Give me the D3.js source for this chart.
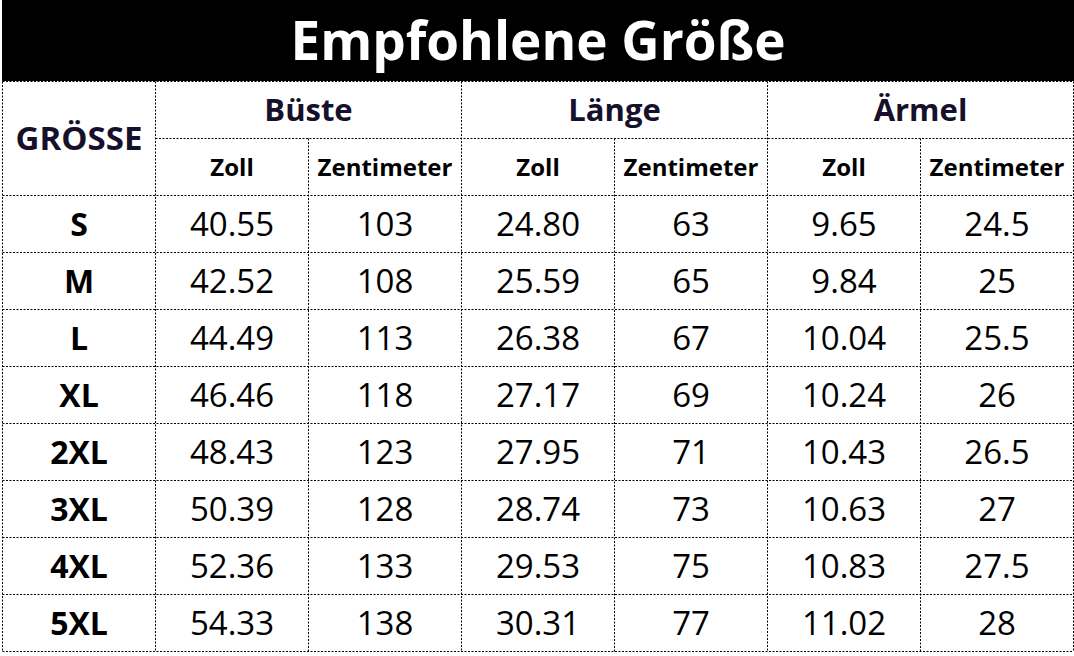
<!DOCTYPE html>
<html>
<head>
<meta charset="utf-8">
<script src="https://cdn.jsdelivr.net/npm/d3@7"></script>
<style>
  body { margin: 0; background: #fff; }
  svg { display: block; }
  text { font-family: "Open Sans", "Noto Sans", sans-serif; }
</style>
</head>
<body>
<div id="chart"></div>
<script>
var title = "Empfohlene Größe";
var sizeHeader = "GRÖSSE";
var groups = ["Büste", "Länge", "Ärmel"];
var units = ["Zoll", "Zentimeter"];

var sizes = ["S", "M", "L", "XL", "2XL", "3XL", "4XL", "5XL"];
var bustInch = ["40.55", "42.52", "44.49", "46.46", "48.43", "50.39", "52.36", "54.33"];
var bustCm = ["103", "108", "113", "118", "123", "128", "133", "138"];
var lengthInch = ["24.80", "25.59", "26.38", "27.17", "27.95", "28.74", "29.53", "30.31"];
var lengthCm = ["63", "65", "67", "69", "71", "73", "75", "77"];
var sleeveInch = ["9.65", "9.84", "10.04", "10.24", "10.43", "10.63", "10.83", "11.02"];
var sleeveCm = ["24.5", "25", "25.5", "26", "26.5", "27", "27.5", "28"];

var W = 1074, H = 656;
var headCol = "#16102b";

main();

function main() {
	var svg = d3.select("#chart").append("svg")
		.attr("width", W)
		.attr("height", H);

	var columns = [sizes, bustInch, bustCm, lengthInch, lengthCm, sleeveInch, sleeveCm];

	// 7 columns, 2 header rows + 8 data rows under the title bar
	var x = d3.scaleBand()
		.domain(d3.range(columns.length))
		.range([2.5, 1073.5]);
	var y = d3.scaleBand()
		.domain(d3.range(sizes.length + 2))
		.range([81.5, 651.5]);

	// title bar
	svg.append("rect")
		.attr("x", 2)
		.attr("y", 0)
		.attr("width", W - 2)
		.attr("height", 81)
		.attr("fill", "#000");

	svg.append("text")
		.attr("x", (x.range()[0] + x.range()[1]) / 2)
		.attr("y", 41)
		.attr("dy", "0.36em")
		.attr("text-anchor", "middle")
		.attr("fill", "#fff")
		.attr("font-weight", 700)
		.attr("font-size", "53px")
		.text(title);

	// grid
	var grid = svg.append("g")
		.attr("stroke", "#000")
		.attr("stroke-width", 1)
		.attr("stroke-dasharray", "2,1.5")
		.attr("fill", "none");

	var bw = x.bandwidth(), bh = y.bandwidth();
	var top = y.range()[0], bottom = y.range()[1];
	var left = x.range()[0], right = x.range()[1];

	// horizontal lines
	grid.append("line").attr("x1", left).attr("x2", right).attr("y1", top).attr("y2", top);
	grid.append("line").attr("x1", left + bw).attr("x2", right).attr("y1", y(1)).attr("y2", y(1));
	d3.range(2, sizes.length + 3).forEach(function(i) {
		var yy = i < sizes.length + 2 ? y(i) : bottom;
		grid.append("line").attr("x1", left).attr("x2", right).attr("y1", yy).attr("y2", yy);
	});

	// vertical lines
	d3.range(columns.length + 1).forEach(function(j) {
		var xx = j < columns.length ? x(j) : right;
		var y1 = (j == 2 || j == 4 || j == 6) ? y(1) : top;
		grid.append("line").attr("x1", xx).attr("x2", xx).attr("y1", y1).attr("y2", bottom);
	});

	// headers
	svg.append("text")
		.attr("x", x(0) + bw / 2)
		.attr("y", top + bh)
		.attr("dy", "0.36em")
		.attr("text-anchor", "middle")
		.attr("fill", headCol)
		.attr("font-weight", 700)
		.attr("font-size", "33px")
		.text(sizeHeader);

	svg.selectAll(".group")
		.data(groups)
		.enter().append("text")
		.attr("class", "group")
		.attr("x", function(d, i) { return x(1 + i * 2) + bw; })
		.attr("y", y(0) + bh / 2)
		.attr("dy", "0.36em")
		.attr("text-anchor", "middle")
		.attr("fill", headCol)
		.attr("font-weight", 700)
		.attr("font-size", "31px")
		.text(function(d) { return d; });

	var subs = [];
	groups.forEach(function(g) { units.forEach(function(u) { subs.push(u); }); });
	svg.selectAll(".unit")
		.data(subs)
		.enter().append("text")
		.attr("class", "unit")
		.attr("x", function(d, i) { return x(i + 1) + bw / 2; })
		.attr("y", y(1) + bh / 2)
		.attr("dy", "0.36em")
		.attr("text-anchor", "middle")
		.attr("fill", "#000")
		.attr("font-weight", 700)
		.attr("font-size", "24px")
		.text(function(d) { return d; });

	// data cells
	columns.forEach(function(col, j) {
		svg.selectAll(".c" + j)
			.data(col)
			.enter().append("text")
			.attr("class", "c" + j)
			.attr("x", x(j) + bw / 2)
			.attr("y", function(d, i) { return y(i + 2) + bh / 2; })
			.attr("dy", "0.36em")
			.attr("text-anchor", "middle")
			.attr("fill", "#000")
			.attr("font-weight", j == 0 ? 700 : 400)
			.attr("font-size", j == 0 ? "32px" : "33px")
			.text(function(d) { return d; });
	});
}
</script>
</body>
</html>
